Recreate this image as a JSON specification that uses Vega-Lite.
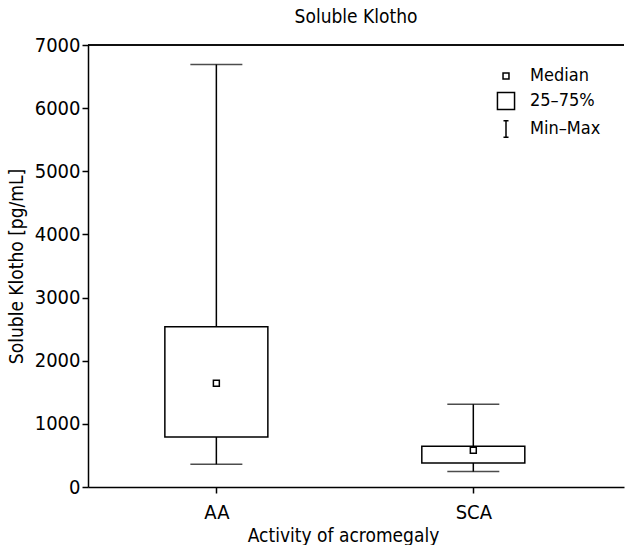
{
  "$schema": "https://vega.github.io/schema/vega-lite/v6.json",
  "width": 536,
  "height": 442,
  "autosize": {"type": "none"},
  "padding": {"left": 88, "top": 45, "right": 1, "bottom": 58},
  "background": "white",
  "title": {"text": "Soluble Klotho", "fontSize": 19, "fontWeight": "normal", "font": "Liberation Sans Narrow, DejaVu Sans Condensed, Roboto Condensed, Liberation Sans, sans-serif", "color": "black", "offset": 8},
  "config": {
    "view": {"stroke": null},
    "font": "Liberation Sans Narrow, DejaVu Sans Condensed, Roboto Condensed, Liberation Sans, sans-serif",
    "axis": {"grid": false, "domainColor": "black", "tickColor": "black", "domainWidth": 1.5, "tickWidth": 1.5, "tickSize": 6, "labelColor": "black", "titleColor": "black", "labelFont": "Liberation Sans Narrow, DejaVu Sans Condensed, Roboto Condensed, Liberation Sans, sans-serif", "titleFont": "Liberation Sans Narrow, DejaVu Sans Condensed, Roboto Condensed, Liberation Sans, sans-serif", "labelFontSize": 20, "titleFontSize": 19, "titleFontWeight": "normal"}
  },
  "data": {"values": [
    {"group": "AA", "min": 360, "q1": 790, "median": 1643, "q3": 2536, "max": 6690},
    {"group": "SCA", "min": 244, "q1": 380, "median": 582, "q3": 645, "max": 1310}
  ]},
  "encoding": {
    "x": {"field": "group", "type": "nominal", "sort": ["AA", "SCA"],
      "scale": {"type": "point", "padding": 0.543, "align": 0.46},
      "axis": {"title": "Activity of acromegaly", "labelAngle": 0, "labelPadding": 9, "titlePadding": 4, "titleX": 255}}
  },
  "layer": [
    {"mark": {"type": "rule", "color": "black", "strokeWidth": 1.5},
     "encoding": {"y": {"field": "min", "type": "quantitative",
        "scale": {"domain": [0, 7000], "nice": false},
        "axis": {"title": "Soluble Klotho [pg/mL]", "format": "d", "values": [0,1000,2000,3000,4000,5000,6000,7000], "labelPadding": 2, "titlePadding": 8}},
       "y2": {"field": "max"}}},
    {"mark": {"type": "bar", "fill": "white", "stroke": "black", "strokeWidth": 1.5, "width": 103},
     "encoding": {"y": {"field": "q1", "type": "quantitative"}, "y2": {"field": "q3"}}},
    {"mark": {"type": "tick", "color": "black", "size": 52, "thickness": 1.5},
     "encoding": {"y": {"field": "min", "type": "quantitative"}}},
    {"mark": {"type": "tick", "color": "black", "size": 52, "thickness": 1.5},
     "encoding": {"y": {"field": "max", "type": "quantitative"}}},
    {"mark": {"type": "rule", "color": "black", "strokeWidth": 1.5},
     "encoding": {"y": {"datum": 7000, "type": "quantitative"}, "x": {"value": 0}, "x2": {"value": 536}}},
    {"mark": {"type": "point", "filled": false, "color": "black", "strokeWidth": 1.5, "size": 324, "opacity": 1},
     "encoding": {
       "y": {"field": "median", "type": "quantitative"},
       "shape": {"datum": "Median", "type": "nominal",
         "scale": {"domain": ["Median", "25–75%", "Min–Max"],
           "range": ["M-0.33,-0.33H0.33V0.33H-0.33Z", "M-0.95,-0.95H0.95V0.95H-0.95Z", "M0,-0.92V0.92M-0.28,-0.92H0.28M-0.28,0.92H0.28"]},
         "legend": {"title": null, "orient": "none", "legendX": 408, "legendY": 21,
           "symbolSize": 324, "symbolStrokeColor": "black", "symbolFillColor": "transparent", "symbolStrokeWidth": 1.5,
           "labelFontSize": 18, "labelFont": "Liberation Sans Narrow, DejaVu Sans Condensed, Roboto Condensed, Liberation Sans, sans-serif", "labelColor": "black", "labelOffset": 14, "rowPadding": 4}}
     }}
  ]
}
